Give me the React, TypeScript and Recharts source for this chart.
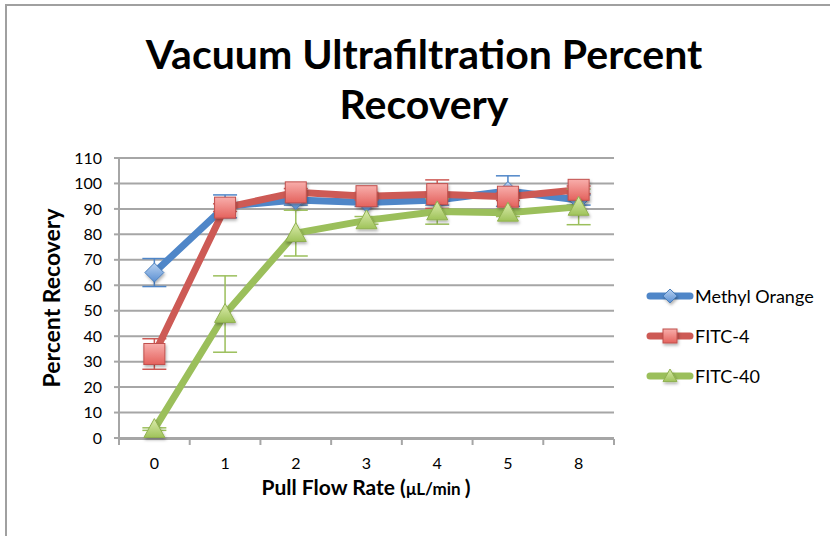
import React from 'react';
import { LineChart, Line, XAxis, YAxis, CartesianGrid, ErrorBar, Label } from 'recharts';

const categories = ['0', '1', '2', '3', '4', '5', '8'];
const methylOrange = [65, 91, 93.5, 92.5, 93.5, 97, 93.5];
const methylOrangeErr = [5.5, 4.5, 2, 1.5, 2, 6, 2];
const fitc4 = [33, 90.5, 96.5, 95, 95.8, 94.8, 97.5];
const fitc4Err = [6, 1.5, 1.5, 1.5, 5.6, 1.5, 1.5];
const fitc40 = [3.5, 48.7, 80.5, 85.5, 89, 88.5, 90.8];
const fitc40Err = [0.5, 15, 9, 1.5, 5, 1.5, 7];
const yTicks = [0, 10, 20, 30, 40, 50, 60, 70, 80, 90, 100, 110];
const edgeTicks = [-0.5, 0.5, 1.5, 2.5, 3.5, 4.5, 5.5, 6.5];
const seriesNames = ['Methyl Orange', 'FITC-4', 'FITC-40'];
const chartTitle = ['Vacuum Ultrafiltration Percent', 'Recovery'];
const xTitle = 'Pull Flow Rate';
const xUnit = 'μL/min ';
const yTitle = 'Percent Recovery';

const data = categories.map((c, i) => ({
  cat: c,
  idx: i,
  mo: methylOrange[i],
  moErr: methylOrangeErr[i],
  f4: fitc4[i],
  f4Err: fitc4Err[i],
  f40: fitc40[i],
  f40Err: fitc40Err[i],
}));

const BLUE = '#4f86c8';
const RED = '#cd5a55';
const GREEN = '#9bbf5b';
const GRID = '#a6a6a6';
const FONT = 'Lato, "Open Sans", sans-serif';

const Diamond = ({ cx, cy, s = 9.5 }: any) => (
  <path
    d={`M${cx},${cy - s} L${cx + s},${cy} L${cx},${cy + s} L${cx - s},${cy} Z`}
    fill="url(#gBlue)"
    stroke="#4a7ebb"
    strokeWidth={1}
    filter="url(#sh)"
  />
);
const Square = ({ cx, cy, s = 10.5 }: any) => (
  <rect x={cx - s} y={cy - s} width={2 * s} height={2 * s} fill="url(#gRed)" stroke="#c0504d" strokeWidth={1} filter="url(#sh)" />
);
const Triangle = ({ cx, cy, s = 10.5 }: any) => (
  <path
    d={`M${cx},${cy - s} L${cx + s},${cy + s * 0.8} L${cx - s},${cy + s * 0.8} Z`}
    fill="url(#gGreen)"
    stroke="#8fb04f"
    strokeWidth={1}
    filter="url(#sh)"
  />
);

const markers = [Diamond, Square, Triangle];
const colors = [BLUE, RED, GREEN];

export default function App() {
  return (
    <div style={{ position: 'absolute', left: 0, top: 0, width: 830, height: 536, overflow: 'hidden', background: '#fff' }}>
      <svg width={0} height={0} style={{ position: 'absolute' }}>
        <defs>
          <linearGradient id="gBlue" x1="0" y1="0" x2="0" y2="1">
            <stop offset="0" stopColor="#b9d2f1" />
            <stop offset="1" stopColor="#5a8fd2" />
          </linearGradient>
          <linearGradient id="gRed" x1="0" y1="0" x2="0" y2="1">
            <stop offset="0" stopColor="#f8aeab" />
            <stop offset="1" stopColor="#e4625d" />
          </linearGradient>
          <linearGradient id="gGreen" x1="0" y1="0" x2="0" y2="1">
            <stop offset="0" stopColor="#dcecae" />
            <stop offset="1" stopColor="#9fc35a" />
          </linearGradient>
          <filter id="sh" x="-50%" y="-50%" width="200%" height="200%">
            <feDropShadow dx="1" dy="2" stdDeviation="1.5" floodColor="#000" floodOpacity="0.3" />
          </filter>
        </defs>
      </svg>
      <div
        style={{
          position: 'absolute',
          left: 5,
          top: 4,
          width: 840,
          height: 540,
          borderLeft: '2px solid #a0a0a0',
          borderTop: '2px solid #a0a0a0',
        }}
      />
      <div
        style={{
          position: 'absolute',
          left: 18,
          top: 29,
          width: 812,
          textAlign: 'center',
          fontFamily: FONT,
          fontWeight: 700,
          fontSize: 41,
          lineHeight: '50px',
          color: '#000',
        }}
      >
        {chartTitle.map((t) => (
          <div key={t}>{t}</div>
        ))}
      </div>
      <div style={{ position: 'absolute', left: 0, top: 0 }}>
        <LineChart width={830} height={536} data={data} margin={{ top: 158, right: 216, bottom: 96, left: 59 }}>
          <CartesianGrid vertical={false} stroke={GRID} strokeWidth={2} />
          <XAxis
            dataKey="cat"
            type="category"
            height={1}
            padding={{ left: 35.36, right: 35.36 }}
            axisLine={false}
            tickLine={false}
            tickSize={0}
            tickMargin={20}
            tick={{ fill: '#000', fontSize: 16, fontFamily: FONT }}
            interval={0}
          >
            <Label
              content={({ viewBox }: any) => (
                <text
                  x={366}
                  y={viewBox.y + 57}
                  textAnchor="middle"
                  fontFamily={FONT}
                  fontWeight={700}
                  fontSize={21}
                  fill="#000"
                >
                  {xTitle} (<tspan fontSize={17}>{xUnit}</tspan>)
                </text>
              )}
            />
          </XAxis>
          <XAxis
            xAxisId="edges"
            dataKey="idx"
            type="number"
            domain={[-0.5, 6.5]}
            ticks={edgeTicks}
            height={1}
            interval={0}
            tick={() => <g />}
            tickSize={6}
            axisLine={{ stroke: GRID, strokeWidth: 2 }}
            tickLine={{ stroke: GRID, strokeWidth: 2 }}
            allowDataOverflow
          />
          <YAxis
            width={60}
            domain={[0, 110]}
            ticks={yTicks}
            interval={0}
            tickSize={5}
            tickMargin={12}
            axisLine={{ stroke: GRID, strokeWidth: 2 }}
            tickLine={{ stroke: GRID, strokeWidth: 2 }}
            tick={{ fill: '#000', fontSize: 16, fontFamily: FONT }}
          >
            <Label
              content={({ viewBox }: any) => {
                const cx = viewBox.x - 8;
                const cy = viewBox.y + viewBox.height / 2;
                return (
                  <text
                    x={cx}
                    y={cy}
                    transform={`rotate(-90 ${cx} ${cy})`}
                    textAnchor="middle"
                    dominantBaseline="central"
                    fontFamily={FONT}
                    fontWeight={700}
                    fontSize={23}
                    fill="#000"
                  >
                    {yTitle}
                  </text>
                );
              }}
            />
          </YAxis>
          {(['mo', 'f4', 'f40'] as const).map((k, i) => {
            const M = markers[i];
            return (
              <Line
                key={k}
                dataKey={k}
                name={seriesNames[i]}
                stroke={colors[i]}
                strokeWidth={7}
                strokeLinejoin="round"
                isAnimationActive={false}
                activeDot={false}
                dot={(p: any) => <M key={`${k}-${p.index}`} cx={p.cx} cy={p.cy} />}
              >
                <ErrorBar dataKey={`${k}Err`} width={12} stroke={colors[i]} strokeWidth={1.5} direction="y" />
              </Line>
            );
          })}
        </LineChart>
      </div>
      <div style={{ position: 'absolute', left: 646, top: 276, fontFamily: FONT, fontSize: 18, color: '#000' }}>
        {seriesNames.map((n, i) => {
          const M = markers[i];
          return (
            <div key={n} style={{ display: 'flex', alignItems: 'center', height: 40 }}>
              <svg width={48} height={26} style={{ display: 'block' }}>
                <line x1={4} y1={13} x2={44} y2={13} stroke={colors[i]} strokeWidth={7} strokeLinecap="round" />
                <M cx={24} cy={13} s={7} />
              </svg>
              <span style={{ marginLeft: 1 }}>{n}</span>
            </div>
          );
        })}
      </div>
    </div>
  );
}
